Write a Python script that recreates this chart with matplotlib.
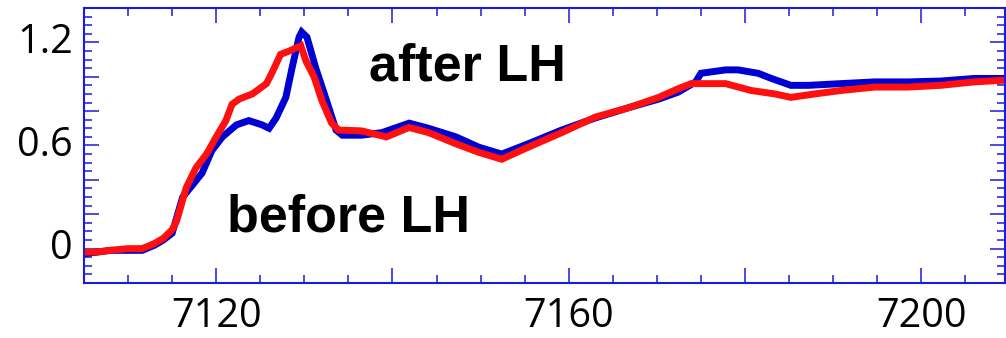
import matplotlib
matplotlib.use("Agg")
import matplotlib.pyplot as plt
from matplotlib.ticker import MultipleLocator, NullFormatter

# ---- data ----
energy_blue = [7105.0, 7106.5, 7108.0, 7110.0, 7111.6, 7113.0, 7114.0, 7115.0, 7116.2, 7117.3,
               7118.4, 7119.5, 7120.7, 7122.3, 7123.7, 7125.2, 7126.0, 7126.8, 7127.9, 7128.6,
               7129.4, 7129.7, 7130.3, 7131.3, 7132.4, 7133.6, 7134.3, 7136.5, 7138.8, 7141.9,
               7144.1, 7147.2, 7149.8, 7152.4, 7155.4, 7159.2, 7163.0, 7166.8, 7170.2, 7172.4,
               7174.4, 7175.0, 7177.8, 7179.2, 7181.5, 7183.0, 7185.2, 7187.2, 7190.9, 7194.7,
               7198.5, 7202.2, 7206.0, 7209.5]
mu_blue = [-0.03, -0.02, -0.01, -0.01, -0.01, 0.02, 0.05, 0.09, 0.30, 0.37,
           0.44, 0.57, 0.65, 0.72, 0.745, 0.72, 0.70, 0.76, 0.88, 1.05,
           1.23, 1.26, 1.23, 1.05, 0.88, 0.69, 0.66, 0.66, 0.675, 0.73,
           0.70, 0.65, 0.59, 0.55, 0.61, 0.69, 0.76, 0.82, 0.87, 0.91,
           0.97, 1.02, 1.04, 1.04, 1.02, 0.99, 0.95, 0.95, 0.96, 0.97,
           0.97, 0.975, 0.99, 0.99]

energy_red = [7105.0, 7106.5, 7108.0, 7110.0, 7111.6, 7113.0, 7114.0, 7115.0, 7115.5, 7116.6,
              7117.7, 7118.9, 7120.0, 7121.1, 7121.8, 7122.6, 7124.1, 7125.7, 7126.3, 7127.3,
              7128.3, 7129.6, 7130.2, 7131.1, 7132.0, 7133.1, 7133.9, 7136.5, 7139.3, 7141.9,
              7144.1, 7147.2, 7149.8, 7152.4, 7155.4, 7159.2, 7163.0, 7166.8, 7170.2, 7172.4,
              7173.9, 7177.8, 7180.7, 7183.4, 7185.2, 7187.9, 7190.9, 7194.7, 7198.5, 7202.2,
              7206.0, 7209.5]
mu_red = [-0.02, -0.02, -0.01, 0.0, 0.0, 0.03, 0.06, 0.11, 0.16, 0.355,
          0.47, 0.55, 0.65, 0.745, 0.84, 0.87, 0.90, 0.96, 1.02, 1.13,
          1.15, 1.18, 1.09, 1.00, 0.86, 0.73, 0.69, 0.685, 0.65, 0.705,
          0.675, 0.61, 0.56, 0.52, 0.59, 0.675, 0.765, 0.82, 0.88, 0.93,
          0.96, 0.96, 0.92, 0.90, 0.88, 0.90, 0.92, 0.94, 0.94, 0.95,
          0.97, 0.98]

xtick_values = [7120, 7160, 7200]
xtick_labels = ["7120", "7160", "7200"]
ytick_values = [0.0, 0.6, 1.2]
ytick_labels = ["0", "0.6", "1.2"]
label_after = "after LH"
label_before = "before LH"

# ---- figure ----
fig = plt.figure(figsize=(10.06, 3.38), dpi=100)
ax = fig.add_axes([84 / 1006, 1 - 283 / 338, (1005 - 84) / 1006, (283 - 8) / 338])

blue = "#0000d2"
red = "#ff1010"
axcol = "#1a1ae0"

ax.plot(energy_blue, mu_blue, color=blue, lw=5, solid_joinstyle="miter", solid_capstyle="butt")
ax.plot(energy_red, mu_red, color=red, lw=5, solid_joinstyle="miter", solid_capstyle="butt")

ax.set_xlim(7105, 7209.5)
ax.set_ylim(-0.2, 1.4)

ax.xaxis.set_major_locator(MultipleLocator(20))
ax.xaxis.set_minor_locator(MultipleLocator(5))
ax.yaxis.set_major_locator(MultipleLocator(0.2))
ax.yaxis.set_minor_locator(MultipleLocator(0.05))
ax.xaxis.set_major_formatter(NullFormatter())
ax.yaxis.set_major_formatter(NullFormatter())

for spine in ax.spines.values():
    spine.set_color(axcol)
    spine.set_linewidth(1.5)

ax.tick_params(which="both", direction="in", top=True, right=True, colors=axcol, width=1.1)
ax.tick_params(which="major", length=11)
ax.tick_params(which="minor", length=5.5)

tickfont = dict(fontsize=28.5, family="Open Sans", color="black")
for v, s in zip(xtick_values, xtick_labels):
    ax.annotate(s, xy=(v, 0), xycoords=("data", "axes fraction"), xytext=(0, -31.5),
                textcoords="offset points", ha="center", va="baseline", **tickfont)
for v, s in zip(ytick_values, ytick_labels):
    ax.annotate(s, xy=(0, v), xycoords=("axes fraction", "data"), xytext=(-8, 0),
                textcoords="offset points", ha="right", va="center", **tickfont)

txtfont = dict(fontsize=37.5, family="Liberation Sans", fontweight="bold", color="black")
ax.text(7137.3, 0.978, label_after, ha="left", va="baseline", **txtfont)
ax.text(7121.2, 0.099, label_before, ha="left", va="baseline", **txtfont)

fig.savefig("out.png", dpi=100)
